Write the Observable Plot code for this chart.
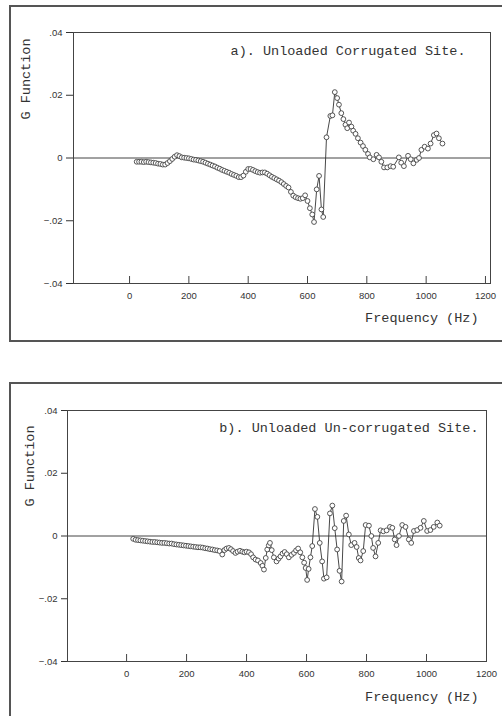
<!DOCTYPE html>
<html><head><meta charset="utf-8">
<script src="https://cdn.jsdelivr.net/npm/d3@7"></script>
<script src="https://cdn.jsdelivr.net/npm/@observablehq/plot@0.6"></script>
<style>
body{margin:0;background:#fff;}
#wrap{position:relative;width:502px;height:716px;overflow:hidden;background:#fff;}
.frame{position:absolute;border:2px solid #555;box-sizing:border-box;}
.panel{position:absolute;left:0;}
</style></head><body><div id="wrap">
<div class="frame" style="left:9px;top:5px;width:500px;height:337px"></div>
<div class="frame" style="left:9px;top:382px;width:500px;height:345px"></div>
<div class="panel" id="pa" style="top:0"></div>
<div class="panel" id="pb" style="top:383px"></div>
</div>
<script>
const xTicks = [0, 200, 400, 600, 800, 1000, 1200];
const yTicks = [-0.04, -0.02, 0, 0.02, 0.04];
const titleA = "a). Unloaded Corrugated Site.";
const titleB = "b). Unloaded Un-corrugated Site.";
const xLabel = "Frequency (Hz)";
const yLabel = "G Function";

const freqA = [24,32,40,48,56,64,72,80,88,96,104,112,120,128,136,144,152,160,168,176,184,192,200,208,216,224,232,240,248,256,264,272,280,288,296,304,312,320,328,336,344,352,360,368,376,384,392,400,408,416,424,432,440,448,456,464,472,480,488,496,504,512,520,528,536,544,552,560,568,576,584,592,600,608,616,622,631,639,647,653,664,677,684,692,700,706,714,721,728,734,740,748,754,762,770,779,787,795,804,810,822,833,841,849,858,869,880,889,908,916,925,939,948,957,968,976,984,995,1006,1015,1026,1035,1043,1055];
const gA = [-0.0012,-0.0012,-0.0012,-0.0013,-0.0012,-0.0013,-0.0014,-0.0015,-0.0016,-0.0018,-0.0019,-0.0021,-0.0021,-0.0016,-0.0010,-0.0003,0.0004,0.0009,0.0006,0.0002,0.0001,0.0000,-0.0001,-0.0003,-0.0005,-0.0006,-0.0008,-0.0010,-0.0012,-0.0015,-0.0018,-0.0021,-0.0024,-0.0027,-0.0031,-0.0034,-0.0038,-0.0041,-0.0044,-0.0047,-0.0051,-0.0054,-0.0057,-0.0061,-0.0061,-0.0056,-0.0044,-0.0035,-0.0035,-0.0038,-0.0042,-0.0045,-0.0047,-0.0046,-0.0046,-0.0050,-0.0055,-0.0060,-0.0064,-0.0068,-0.0072,-0.0077,-0.0083,-0.0089,-0.0094,-0.0108,-0.0120,-0.0125,-0.0128,-0.0130,-0.0128,-0.0119,-0.0137,-0.0160,-0.0180,-0.0204,-0.0100,-0.0057,-0.0164,-0.0188,0.0066,0.0134,0.0136,0.0210,0.0191,0.0170,0.0143,0.0124,0.0106,0.0095,0.0113,0.0100,0.0087,0.0077,0.0063,0.0049,0.0038,0.0026,0.0013,0.0002,-0.0004,0.0010,0.0002,-0.0012,-0.0030,-0.0030,-0.0026,-0.0028,0.0002,-0.0015,-0.0026,0.0007,-0.0004,-0.0017,-0.0006,0.0000,0.0026,0.0036,0.0030,0.0046,0.0073,0.0078,0.0063,0.0046];

const freqB = [22,30,38,46,54,62,70,78,86,94,102,110,118,126,134,142,150,158,166,174,182,190,198,206,214,222,230,238,246,254,262,270,278,286,294,302,310,319,326,333,341,348,355,363,370,378,386,393,400,408,415,422,430,438,447,453,458,464,469,474,478,484,491,500,507,513,520,527,534,541,550,558,565,572,579,586,592,597,602,607,613,619,628,636,644,652,658,667,678,686,694,702,710,717,724,732,741,749,760,767,774,780,789,797,808,816,822,830,839,847,856,867,878,886,894,900,908,919,930,941,949,958,969,980,991,1002,1013,1024,1036,1044];
const gB = [-0.0009,-0.0012,-0.0013,-0.0014,-0.0015,-0.0016,-0.0017,-0.0018,-0.0019,-0.0019,-0.0020,-0.0021,-0.0022,-0.0022,-0.0023,-0.0024,-0.0024,-0.0026,-0.0027,-0.0028,-0.0029,-0.0030,-0.0031,-0.0032,-0.0033,-0.0034,-0.0035,-0.0036,-0.0036,-0.0037,-0.0039,-0.0040,-0.0042,-0.0043,-0.0045,-0.0046,-0.0048,-0.0059,-0.0045,-0.0040,-0.0038,-0.0042,-0.0048,-0.0054,-0.0050,-0.0047,-0.0050,-0.0052,-0.0050,-0.0052,-0.0058,-0.0068,-0.0075,-0.0078,-0.0086,-0.0095,-0.0107,-0.0070,-0.0043,-0.0030,-0.0022,-0.0045,-0.0068,-0.0081,-0.0072,-0.0065,-0.0056,-0.0051,-0.0058,-0.0068,-0.0060,-0.0054,-0.0046,-0.0040,-0.0052,-0.0068,-0.0085,-0.0102,-0.0140,-0.0105,-0.0068,-0.0032,0.0086,0.0061,-0.0022,-0.0081,-0.0136,-0.0132,0.0072,0.0097,0.0025,-0.0043,-0.0111,-0.0145,0.0048,0.0065,0.0005,-0.0029,-0.0022,-0.0035,-0.0070,-0.0078,-0.0048,0.0035,0.0033,0.0000,-0.0038,-0.0065,-0.0022,0.0018,0.0015,0.0018,0.0029,0.0026,-0.0011,-0.0029,0.0000,0.0035,0.0029,-0.0011,-0.0022,0.0016,0.0019,0.0026,0.0048,0.0016,0.0019,0.0029,0.0043,0.0033];

const mono = "Liberation Mono, DejaVu Sans Mono, monospace";
const yFmt = d => d === 0 ? "0" : d3.format(".2f")(d).replace("0.", ".");

function panel(freq, g, opts) {
  const data = freq.map((f, i) => ({f, g: g[i]}));
  const tickLen = 0.08 / (opts.height - opts.marginTop - opts.marginBottom) * 7;
  return Plot.plot({
    width: 502,
    height: opts.height,
    marginLeft: opts.marginLeft,
    marginRight: opts.marginRight,
    marginTop: opts.marginTop,
    marginBottom: opts.marginBottom,
    style: {fontFamily: "Liberation Sans, Arial, sans-serif", fontSize: "9.5px", color: "#333", background: "transparent"},
    x: {domain: opts.xDomain},
    y: {domain: [-0.04, 0.04]},
    marks: [
      Plot.frame({stroke: "#444", strokeWidth: 1}),
      Plot.ruleY([0], {stroke: "#444", strokeWidth: 1}),
      Plot.ruleX(xTicks, {x: d => d, y1: -0.04, y2: -0.04 + tickLen, stroke: "#444"}),
      Plot.axisX({ticks: xTicks, tickSize: 0, tickPadding: 9, tickFormat: d => String(d), label: null}),
      Plot.axisY({ticks: yTicks, tickSize: opts.ytick, tickPadding: 4, tickFormat: yFmt, label: null}),
      Plot.line(data, {x: "f", y: "g", stroke: "#333", strokeWidth: 0.9}),
      Plot.dot(data, {x: "f", y: "g", r: 2.4, stroke: "#444", strokeWidth: 0.9, fill: "white"}),
      Plot.text([opts.title], {text: d => d, frameAnchor: "top-right", textAnchor: "end", lineAnchor: "middle", dx: opts.tdx, dy: opts.tdy, fontFamily: mono, fontSize: 13.5, fill: "#333"}),
      Plot.text([xLabel], {text: d => d, frameAnchor: "bottom-right", textAnchor: "end", lineAnchor: "middle", dx: opts.xdx, dy: opts.xdy, fontFamily: mono, fontSize: 13.5, fill: "#333"}),
      Plot.text([yLabel], {text: d => d, frameAnchor: "top-left", rotate: -90, textAnchor: "end", lineAnchor: "middle", dx: opts.ydx, dy: opts.ydy, fontFamily: mono, fontSize: 13.5, fill: "#333"})
    ]
  });
}

document.getElementById("pa").appendChild(panel(freqA, gA, {
  height: 340, marginLeft: 73, marginRight: 12, marginTop: 32, marginBottom: 57,
  xDomain: [-189, 1217], ytick: 7,
  title: titleA, tdx: -25, tdy: 18, xdx: -12, xdy: 34, ydx: -48, ydy: 6
}));
document.getElementById("pb").appendChild(panel(freqB, gB, {
  height: 333, marginLeft: 67, marginRight: 16, marginTop: 27, marginBottom: 55,
  xDomain: [-197, 1200], ytick: 6,
  title: titleB, tdx: -8, tdy: 17, xdx: -8, xdy: 35, ydx: -38, ydy: 15
}));
</script>
</body></html>
